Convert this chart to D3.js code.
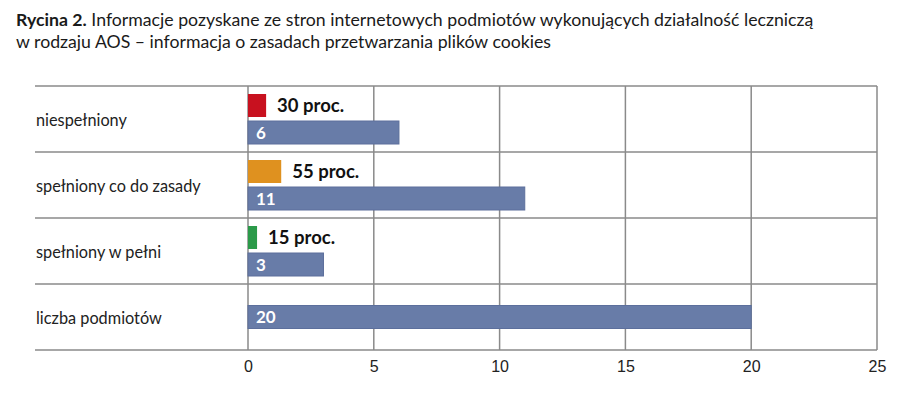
<!DOCTYPE html>
<head>
<meta charset="utf-8">
<style>
body { margin: 0; background: #fff; font-family: Lato, "Open Sans", sans-serif; }
.title { font-size: 17.7px; fill: #1a1a1a; }
.cat { font-size: 16.3px; fill: #222; }
.tick text { font-size: 16px; fill: #222; }
.grid line { stroke: #8a8a8a; stroke-width: 1.5; }
.pct { font-size: 18.5px; font-weight: bold; fill: #111; }
.val { font-size: 17px; font-weight: bold; fill: #fff; }
</style>
</head>
<body>
<script src="https://cdn.jsdelivr.net/npm/d3@7/dist/d3.min.js"></script>
<script>

// data
var categories = ["niespełniony", "spełniony co do zasady", "spełniony w pełni", "liczba podmiotów"];
var counts = [6, 11, 3, 20];
var percents = [30, 55, 15, null];
var percentLabels = ["30 proc.", "55 proc.", "15 proc.", null];
var tickValues = [0, 5, 10, 15, 20, 25];
var pctColors = ["#c8111f", "#df911f", "#2b9a49"];
var countColor = "#687ca8";

var width = 900, height = 399;

var svg = d3.select("body").append("svg")
    .attr("width", width)
    .attr("height", height);

// title
var title = svg.append("text").attr("class", "title").attr("x", 16).attr("y", 26);
title.append("tspan").style("font-weight", "bold").text("Rycina 2.");
title.append("tspan").text(" Informacje pozyskane ze stron internetowych podmiotów wykonujących działalność leczniczą");
svg.append("text").attr("class", "title").attr("x", 16).attr("y", 48)
    .text("w rodzaju AOS – informacja o zasadach przetwarzania plików cookies");

// scales
var x = d3.scaleLinear().domain([0, 25]).range([248, 877]);
var y = d3.scaleBand().domain(categories).range([86, 350]);
var pctScale = d3.scaleLinear().domain([0, 100]).range([0, x(2.4) - x(0)]);

// grid: vertical lines at ticks
var grid = svg.append("g").attr("class", "grid");
grid.selectAll("line.v")
    .data(tickValues)
  .enter().append("line")
    .attr("class", "v")
    .attr("x1", function(d) { return x(d); })
    .attr("x2", function(d) { return x(d); })
    .attr("y1", y.range()[0])
    .attr("y2", y.range()[1]);

// horizontal separators between rows
var seps = categories.map(function(c) { return y(c); }).concat([y.range()[1]]);
grid.selectAll("line.h")
    .data(seps)
  .enter().append("line")
    .attr("class", "h")
    .attr("x1", 35)
    .attr("x2", x(25))
    .attr("y1", function(d) { return d; })
    .attr("y2", function(d) { return d; });

// x axis labels
var axis = svg.append("g")
    .attr("transform", "translate(0," + y.range()[1] + ")")
    .call(d3.axisBottom(x).tickValues(tickValues).tickSize(0).tickPadding(11));
axis.select(".domain").remove();
axis.selectAll("text").attr("font-family", null);

// category labels
svg.selectAll("text.cat")
    .data(categories)
  .enter().append("text")
    .attr("class", "cat")
    .attr("x", 36)
    .attr("y", function(d) { return y(d) + y.bandwidth() / 2 + 7; })
    .text(function(d) { return d; });

var rows = categories.map(function(c, i) {
    return {cat: c, count: counts[i], pct: percents[i], label: percentLabels[i], color: pctColors[i]};
});

var barH = 23;

// percent bars
var pr = rows.filter(function(d) { return d.pct != null; });
svg.selectAll("rect.pct")
    .data(pr)
  .enter().append("rect")
    .attr("x", x(0))
    .attr("y", function(d) { return y(d.cat) + 8; })
    .attr("width", function(d) { return pctScale(d.pct); })
    .attr("height", barH)
    .attr("fill", function(d) { return d.color; });

svg.selectAll("text.pct")
    .data(pr)
  .enter().append("text")
    .attr("class", "pct")
    .attr("x", function(d) { return x(0) + pctScale(d.pct) + 11; })
    .attr("y", function(d) { return y(d.cat) + 8 + barH / 2 + 6; })
    .text(function(d) { return d.label; });

// count bars
function countY(d) {
    return d.pct != null ? y(d.cat) + 35 : y(d.cat) + (y.bandwidth() - barH) / 2;
}
svg.selectAll("rect.cnt")
    .data(rows)
  .enter().append("rect")
    .attr("x", x(0))
    .attr("y", countY)
    .attr("width", function(d) { return x(d.count) - x(0); })
    .attr("height", barH)
    .attr("fill", countColor)
    .attr("stroke", "#5c6f9c")
    .attr("stroke-width", 1);

svg.selectAll("text.val")
    .data(rows)
  .enter().append("text")
    .attr("class", "val")
    .attr("x", x(0) + 8)
    .attr("y", function(d) { return countY(d) + barH / 2 + 6; })
    .text(function(d) { return d.count; });

</script>
</body>
